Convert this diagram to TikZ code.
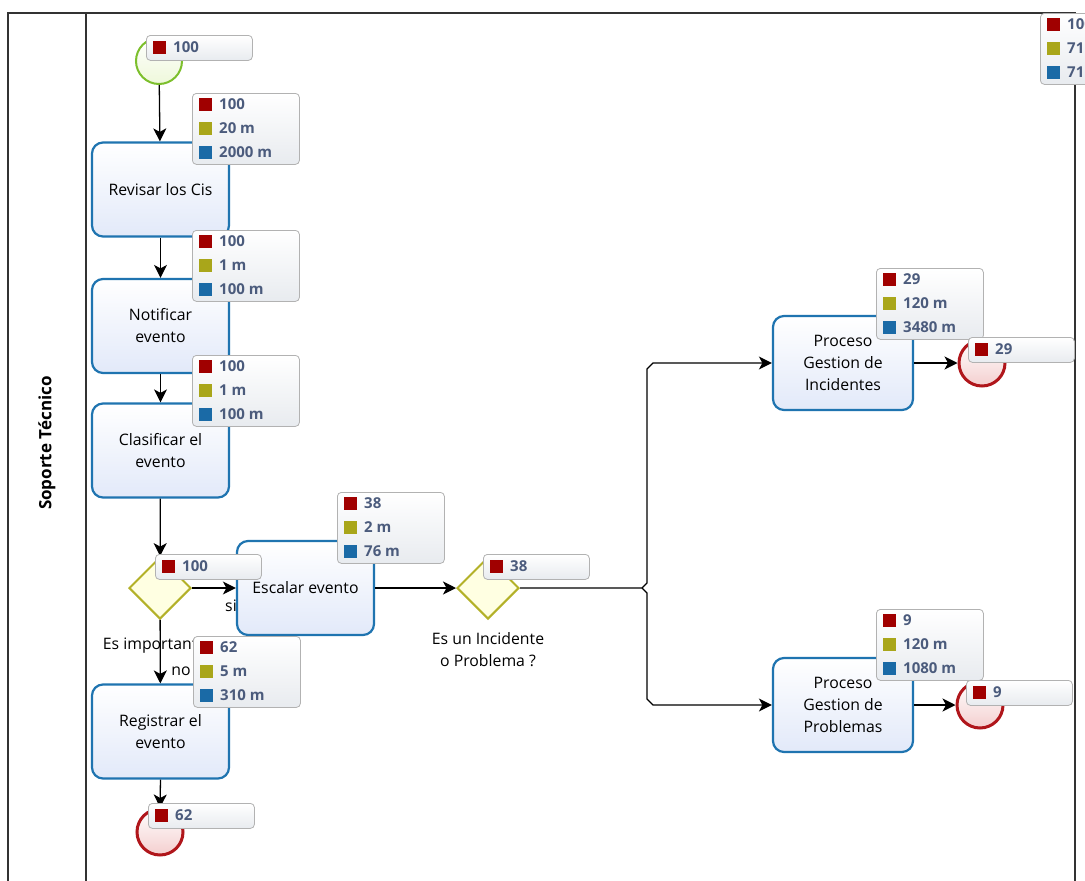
\documentclass[tikz,border=0pt]{standalone}
\usepackage{fontspec}
\setmainfont{Open Sans}
\usetikzlibrary{arrows.meta,shapes.geometric}

\definecolor{taskblue}{HTML}{1F74B0}
\definecolor{taskfill}{HTML}{E2E9F9}
\definecolor{startgreen}{HTML}{7CBF2C}
\definecolor{startfill}{HTML}{EEF8DA}
\definecolor{endred}{HTML}{B0161B}
\definecolor{endfill}{HTML}{F4CFCF}
\definecolor{gateolive}{HTML}{B3B128}
\definecolor{gatefill}{HTML}{FFFFE2}
\definecolor{statred}{HTML}{A00000}
\definecolor{statolive}{HTML}{A9A61A}
\definecolor{statblue}{HTML}{1A6AA6}
\definecolor{statink}{HTML}{4B5B7C}
\definecolor{statborder}{HTML}{B2B2B2}
\definecolor{statfill}{HTML}{E8EBEF}
\definecolor{poolline}{HTML}{333333}

\tikzset{
  task/.style={draw=taskblue, line width=2.2pt, rounded corners=11pt,
    top color=white, bottom color=taskfill, minimum width=137pt,
    minimum height=94pt, align=center, inner sep=2pt,
    font=\fontsize{15.8}{22}\selectfont},
  startev/.style={circle, draw=startgreen, line width=2pt, inner sep=0,
    minimum size=46pt, top color=white, bottom color=startfill},
  endev/.style={circle, draw=endred, line width=3pt, inner sep=0,
    minimum size=46pt, top color=white, bottom color=endfill},
  gate/.style={diamond, draw=gateolive, line width=2pt, fill=gatefill,
    inner sep=0, minimum width=62pt, minimum height=62pt},
  flow/.style={draw=black, line width=1.3pt,
    -{Stealth[length=13pt,width=13pt,inset=3.5pt]}},
  statframe/.style={draw=statborder, line width=0.8pt, rounded corners=4pt,
    top color=white, bottom color=statfill, inner sep=0},
  chip/.style={minimum size=13pt, inner sep=0},
  stattext/.style={text=statink, inner sep=0,
    font=\fontsize{15}{17}\bfseries\selectfont},
  plain/.style={inner sep=1pt, align=center,
    font=\fontsize{15.8}{22}\selectfont},
}

% three-row statistics panel: name, left, top, count, time, total
\newcommand\statpanel[6]{%
  \begin{scope}[shift={(#2,#3)}]
    \node[statframe, minimum width=107pt, minimum height=71pt,
      anchor=north west] (#1) at (0,0) {};
    \node[chip, fill=statred] (#1-ca) at (13.5,11) {};
    \node[stattext, anchor=west] (#1-ta) at (27,11) {#4};
    \node[chip, fill=statolive] (#1-cb) at (13.5,35) {};
    \node[stattext, anchor=west] (#1-tb) at (27,35) {#5};
    \node[chip, fill=statblue] (#1-cc) at (13.5,59) {};
    \node[stattext, anchor=west] (#1-tc) at (27,59) {#6};
  \end{scope}}

% one-row count label: name, left, top, count
\newcommand\countlabel[4]{%
  \begin{scope}[shift={(#2,#3)}]
    \node[statframe, minimum width=106pt, minimum height=25pt,
      anchor=north west] (#1) at (0,0) {};
    \node[chip, fill=statred] (#1-c) at (13.5,12.5) {};
    \node[stattext, anchor=west] (#1-t) at (27,12.5) {#4};
  \end{scope}}

\begin{document}
\begin{tikzpicture}[x=1pt, y=-1pt]
\useasboundingbox (0,0) rectangle (1085,881);
\clip (0,0) rectangle (1085,881);
\fill[white] (0,0) rectangle (1085,881);

% pool and lane frame
\draw[poolline, line width=1.4pt] (8,881) -- (8,13) -- (1075,13) -- (1075,881);
\draw[poolline, line width=1.4pt] (86,13) -- (86,881);
\node[rotate=90, inner sep=0, font=\fontsize{17}{20}\bfseries\selectfont]
  (lane) at (47,443) {Soporte Técnico};

% gateway labels (partly covered by the shapes drawn later)
\node[plain] (lblsi) at (231,606) {si};
\node[plain] (lblimp) at (160,646) {Es importante ?};
\node[plain] (lblno) at (181,671) {no};
\node[plain] (lblinc) at (488,650) {Es un Incidente\\o Problema ?};

% events
\node[startev] (start) at (159,61) {};
\node[endev] (endreg) at (160,832) {};
\node[endev] (endinc) at (982,363) {};
\node[endev] (endpro) at (980,705) {};

% tasks
\node[task] (revisar) at (160.5,189.5) {Revisar los Cis};
\node[task] (notificar) at (160.5,326) {Notificar\\evento};
\node[task] (clasificar) at (160.5,450.5) {Clasificar el\\evento};
\node[task] (registrar) at (160.5,731.5) {Registrar el\\evento};
\node[task] (escalar) at (305.5,588) {Escalar evento};
\node[task, minimum width=140pt] (incid) at (843,363) {Proceso\\Gestion de\\Incidentes};
\node[task, minimum width=140pt] (probl) at (843,705) {Proceso\\Gestion de\\Problemas};

% gateways
\node[gate] (gimp) at (160,588) {};
\node[gate] (gtipo) at (488,588) {};

% sequence flows
\draw[flow] (start) -- (revisar);
\draw[flow] (revisar) -- (notificar);
\draw[flow] (notificar) -- (clasificar);
\draw[flow] (clasificar) -- (gimp);
\draw[flow] (gimp) -- (escalar);
\draw[flow] (gimp) -- (registrar);
\draw[flow] (registrar.south) -- (endreg.north);
\draw[flow] (escalar) -- (gtipo);
\coordinate (split) at (642,588);
\draw[flow] (gtipo.east) -- (split) -- (647,583) -- (647,369) -- (653,363) -- (incid.west);
\draw[flow] (split) -- (647,593) -- (647,699) -- (653,705) -- (probl.west);
\draw[flow] (incid.east) -- (endinc.west);
\draw[flow] (probl.east) -- (endpro.west);

% statistics panels
\statpanel{srev}{192}{93}{100}{20 m}{2000 m}
\statpanel{snot}{192}{230}{100}{1 m}{100 m}
\statpanel{scla}{192}{355}{100}{1 m}{100 m}
\statpanel{sesc}{337}{492}{38}{2 m}{76 m}
\statpanel{sreg}{193}{636}{62}{5 m}{310 m}
\statpanel{sinc}{876}{268}{29}{120 m}{3480 m}
\statpanel{spro}{876}{609}{9}{120 m}{1080 m}
\statpanel{sall}{1040}{13}{100}{71}{71}

\countlabel{cstart}{146}{35}{100}
\countlabel{cimp}{155}{554}{100}
\countlabel{ctipo}{483}{554}{38}
\countlabel{creg}{148}{803}{62}
\countlabel{cinc}{968}{337}{29}
\countlabel{cpro}{966}{680}{9}
\end{tikzpicture}
\end{document}
